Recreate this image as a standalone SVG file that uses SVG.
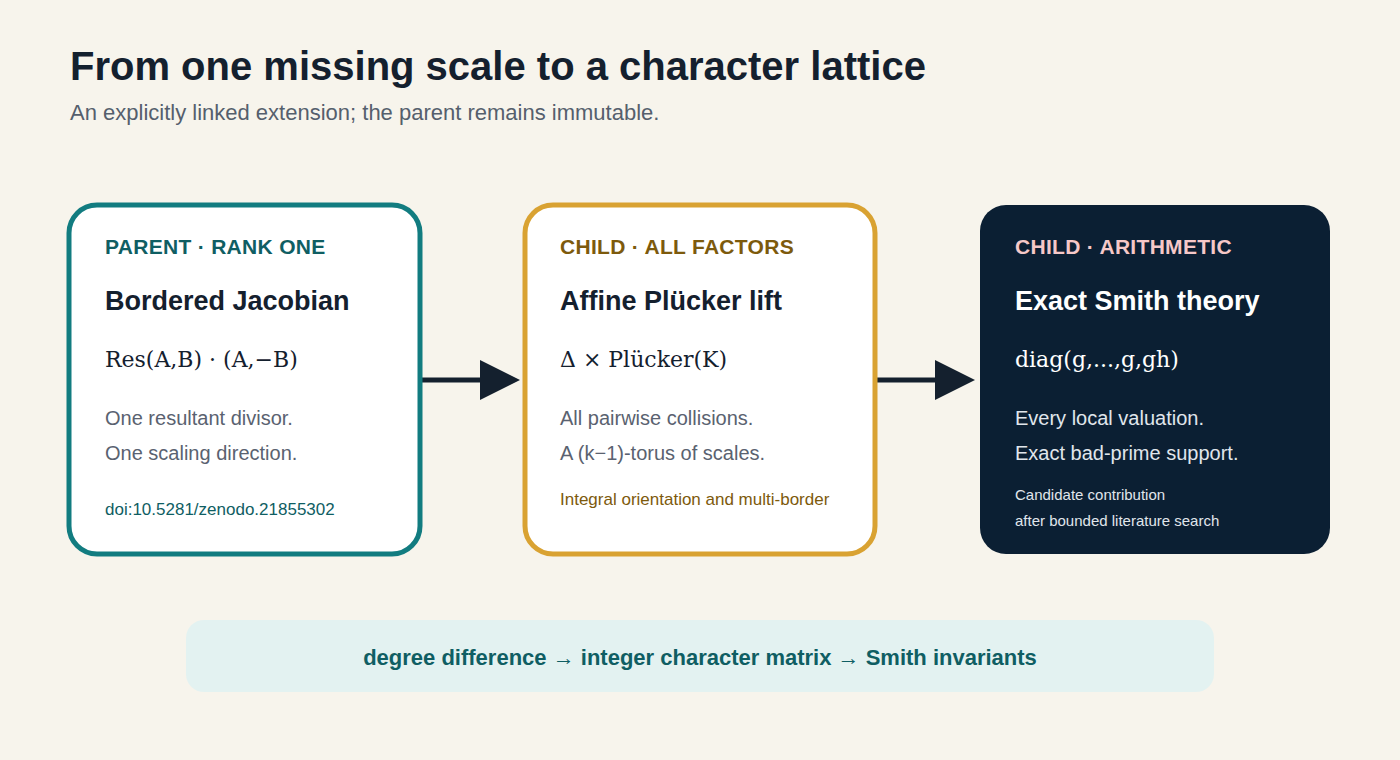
<svg xmlns="http://www.w3.org/2000/svg" width="1400" height="760" viewBox="0 0 1400 760">
<style>
.s{font-family:"Liberation Sans",Arial,sans-serif}
.lab{font-family:"Liberation Sans",Arial,sans-serif;font-weight:bold;font-size:21px;letter-spacing:0.3px}
.ttl{font-family:"Liberation Sans",Arial,sans-serif;font-weight:bold;font-size:27px;fill:#14202e}
.f{font-family:"DejaVu Serif","Liberation Serif",serif;font-size:22px;fill:#14202e}
.ln{font-family:"Liberation Sans",Arial,sans-serif;font-size:20px;fill:#5a6270}
</style>
<defs><marker id="ah" markerWidth="40" markerHeight="40" refX="0" refY="20" markerUnits="userSpaceOnUse" orient="auto"><path d="M0,0 L40,20 L0,40 Z" fill="#14202e"/></marker></defs>
<rect width="1400" height="760" fill="#f7f4ec"/>
<text x="70" y="80" class="s" font-size="40" font-weight="bold" fill="#14202e">From one missing scale to a character lattice</text>
<text x="70" y="120" class="s" font-size="22" fill="#555f6d">An explicitly linked extension; the parent remains immutable.</text>
<g id="connectors" stroke="#14202e" stroke-width="5">
<line x1="422" y1="380" x2="480" y2="380" marker-end="url(#ah)"/>
<line x1="876" y1="380" x2="935" y2="380" marker-end="url(#ah)"/>
</g>
<g id="parent">
<rect x="69" y="205" width="351" height="349" rx="28" fill="#fff" stroke="#127c80" stroke-width="5"/>
<text x="105" y="254" class="lab" fill="#0f5e63">PARENT · RANK ONE</text>
<text x="105" y="310" class="ttl">Bordered Jacobian</text>
<text x="105" y="367" class="f">Res(A,B) · (A,−B)</text>
<text x="105" y="425" class="ln">One resultant divisor.</text>
<text x="105" y="460" class="ln">One scaling direction.</text>
<text x="105" y="515" class="s" font-size="17" fill="#0f5e63">doi:10.5281/zenodo.21855302</text>
</g>
<g id="child1">
<rect x="525" y="205" width="350" height="349" rx="28" fill="#fff" stroke="#d9a232" stroke-width="5"/>
<text x="560" y="254" class="lab" fill="#7d5a0c">CHILD · ALL FACTORS</text>
<text x="560" y="310" class="ttl">Affine Plücker lift</text>
<text x="560" y="367" class="f">Δ × Plücker(K)</text>
<text x="560" y="425" class="ln">All pairwise collisions.</text>
<text x="560" y="460" class="ln">A (k−1)-torus of scales.</text>
<text x="560" y="505" class="s" font-size="17" fill="#7d5a0c">Integral orientation and multi-border</text>
</g>
<g id="child2">
<rect x="980" y="205" width="350" height="349" rx="26" fill="#0b1f33"/>
<text x="1015" y="254" class="lab" fill="#f6c8c8">CHILD · ARITHMETIC</text>
<text x="1015" y="310" class="ttl" style="fill:#fff">Exact Smith theory</text>
<text x="1015" y="367" class="f" style="fill:#fff">diag(g,...,g,gh)</text>
<text x="1015" y="425" class="ln" style="fill:#e0e6ec">Every local valuation.</text>
<text x="1015" y="460" class="ln" style="fill:#e0e6ec">Exact bad-prime support.</text>
<text x="1015" y="500" class="s" font-size="15" fill="#e0e6ec">Candidate contribution</text>
<text x="1015" y="526" class="s" font-size="15" fill="#e0e6ec">after bounded literature search</text>
</g>
<g id="footer">
<rect x="186" y="620" width="1028" height="72" rx="18" fill="#e3f2f1"/>
<text x="700" y="665" text-anchor="middle" class="s" font-size="22" font-weight="bold" fill="#0f5e63">degree difference → integer character matrix → Smith invariants</text>
</g>
</svg>
